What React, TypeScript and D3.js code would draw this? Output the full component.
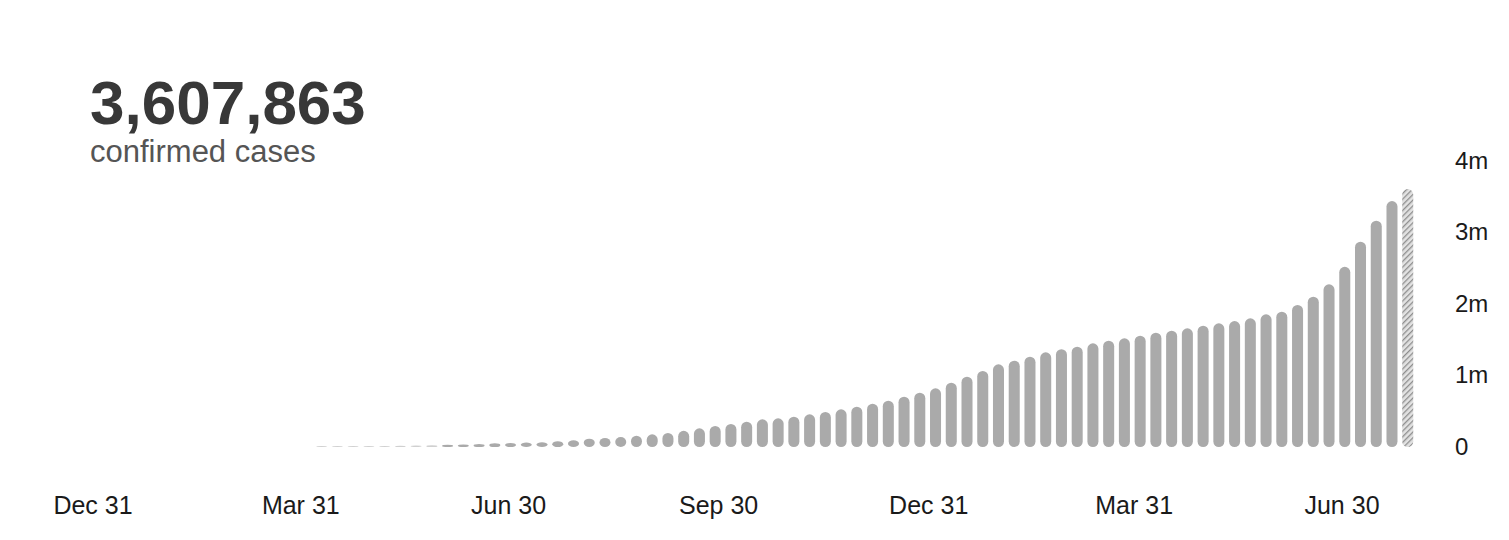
import React, { useEffect } from "react";
import * as d3 from "d3";

const WIDTH = 1509;
const HEIGHT = 540;

const TOTAL_LABEL = "3,607,863";
const SUBTITLE = "confirmed cases";

// Weekly cumulative confirmed cases (millions)
const weeklyCases: number[] = [
  0.004, 0.006, 0.008, 0.010, 0.013, 0.016, 0.020, 0.024, 0.030, 0.036,
  0.043, 0.052, 0.057, 0.062, 0.067, 0.080, 0.094, 0.117, 0.126, 0.140,
  0.158, 0.178, 0.196, 0.226, 0.262, 0.294, 0.322, 0.354, 0.387, 0.401,
  0.424, 0.457, 0.490, 0.527, 0.564, 0.606, 0.648, 0.704, 0.760, 0.821,
  0.900, 0.984, 1.063, 1.156, 1.207, 1.263, 1.324, 1.368, 1.403, 1.450,
  1.487, 1.520, 1.557, 1.599, 1.627, 1.660, 1.697, 1.730, 1.762, 1.800,
  1.856, 1.892, 1.986, 2.102, 2.276, 2.520, 2.871, 3.165, 3.440, 3.607863,
];

const xTickDates: string[] = [
  "2019-12-31", "2020-03-31", "2020-06-30", "2020-09-30",
  "2020-12-31", "2021-03-31", "2021-06-30",
];
const xTickLabels: string[] = [
  "Dec 31", "Mar 31", "Jun 30", "Sep 30", "Dec 31", "Mar 31", "Jun 30",
];

const yTicks: number[] = [0, 1, 2, 3, 4];
const yTickLabels: string[] = ["0", "1m", "2m", "3m", "4m"];

export default function App() {
  useEffect(() => {
    document.body.style.margin = "0";
  }, []);

  const parse = d3.timeParse("%Y-%m-%d");
  const timeX = d3
    .scaleTime()
    .domain([parse(xTickDates[0])!, parse(xTickDates[xTickDates.length - 1])!])
    .range([93, 1342]);

  const barX = d3
    .scaleBand<number>()
    .domain(weeklyCases.map((_, i) => i))
    .range([313.8, 1415.6])
    .paddingInner(0.3)
    .paddingOuter(0.15);

  const y = d3.scaleLinear().domain([0, 4]).range([447, 161]);

  const bw = barX.bandwidth();
  const last = weeklyCases.length - 1;

  return (
    <svg
      width={WIDTH}
      height={HEIGHT}
      style={{ display: "block", background: "#fff" }}
      fontFamily="'Liberation Sans', Arial, sans-serif"
    >
      <defs>
        <pattern
          id="hatch"
          patternUnits="userSpaceOnUse"
          width={4}
          height={4}
          patternTransform="rotate(45)"
        >
          <rect width={4} height={4} fill="#e2e2e2" />
          <line x1={0} y1={0} x2={0} y2={4} stroke="#8e8e8e" strokeWidth={2.6} />
        </pattern>
      </defs>

      <text x={90} y={124} fontSize={62} fontWeight="bold" fill="#383838">
        {TOTAL_LABEL}
      </text>
      <text x={90} y={162} fontSize={31} fill="#555">
        {SUBTITLE}
      </text>

      <g>
        {weeklyCases.map((v, i) => {
          const top = y(v);
          const h = Math.max(1, y(0) - top);
          return (
            <rect
              key={i}
              x={barX(i)}
              y={y(0) - h}
              width={bw}
              height={h}
              rx={bw / 2}
              fill={i === last ? "url(#hatch)" : "#aaaaaa"}
              opacity={v < 0.03 ? 0.55 : 1}
            />
          );
        })}
      </g>

      <g fontSize={24} fill="#1a1a1a">
        {yTicks.map((t, i) => (
          <text key={t} x={1455} y={y(t) - 1} dominantBaseline="central">
            {yTickLabels[i]}
          </text>
        ))}
      </g>

      <g fontSize={25} fill="#1a1a1a">
        {xTickDates.map((d, i) => (
          <text key={i} x={timeX(parse(d)!)} y={514} textAnchor="middle">
            {xTickLabels[i]}
          </text>
        ))}
      </g>
    </svg>
  );
}
